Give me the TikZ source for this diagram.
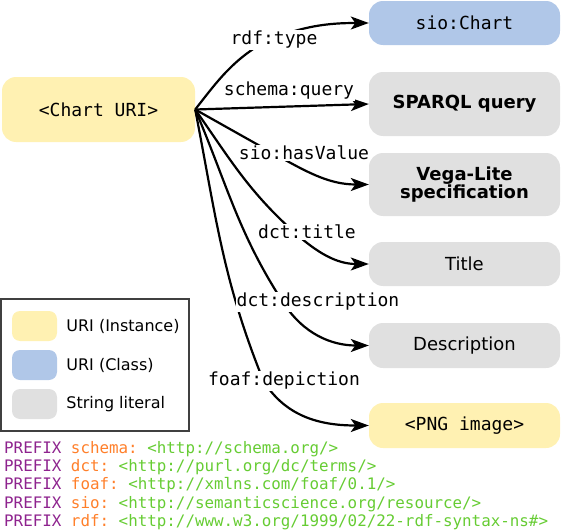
\documentclass[tikz,border=0pt]{standalone}
\usepackage{fontspec}
\setmainfont{DejaVu Sans}
\setmonofont{DejaVu Sans Mono}
\usepackage{xcolor}
\usepackage{tikz}
\usetikzlibrary{arrows.meta, positioning}
\definecolor{uriyellow}{RGB}{255,241,178}
\definecolor{classblue}{RGB}{176,199,232}
\definecolor{litgray}{RGB}{224,224,224}
\definecolor{pfxpurple}{RGB}{142,35,142}
\definecolor{pfxorange}{RGB}{255,127,42}
\definecolor{pfxgreen}{RGB}{102,204,51}
\newcommand{\prefixline}[2]{\textcolor{pfxpurple}{PREFIX} \textcolor{pfxorange}{#1:} \textcolor{pfxgreen}{<#2>}}

\begin{document}
\begin{tikzpicture}[
    x=1pt, y=1pt,
    box/.style={rectangle, rounded corners=14pt, inner sep=0pt, minimum width=191pt, align=center},
    instance/.style={box, fill=uriyellow, font=\ttfamily\fontsize{18}{18}\selectfont},
    class/.style={box, fill=classblue, font=\ttfamily\fontsize{18}{18}\selectfont},
    literal/.style={box, fill=litgray, font=\fontsize{18}{18}\selectfont},
    boldlit/.style={literal, font=\bfseries\fontsize{18}{18}\selectfont},
    arrow/.style={-{Stealth[length=18pt, width=13pt, inset=4.5pt]}, line width=2.2pt},
    prop/.style={fill=white, inner sep=1pt, font=\ttfamily\fontsize{18}{18}\selectfont},
    swatch/.style={rectangle, rounded corners=8pt, minimum width=45pt, minimum height=30pt, inner sep=0pt},
    legtext/.style={right=9pt of #1, inner sep=0pt, font=\fontsize{16}{16}\selectfont}
]
    \useasboundingbox (0,0) rectangle (563,-530);

    % Subject
    \node[instance, minimum width=193pt, minimum height=65pt] (uri) at (98.5,-109.5) {<Chart URI>};

    % Objects
    \node[class, minimum height=44pt] (chart) at (464.5,-23) {sio:Chart};
    \node[boldlit, minimum height=64pt] (sparql) at (464.5,-104) {SPARQL query};
    \node[boldlit, minimum height=63pt] (vega) at (464.5,-184.5) {Vega-Lite\\specification};
    \node[literal, minimum height=44pt] (title) at (464.5,-264) {Title};
    \node[literal, minimum height=45pt] (desc) at (464.5,-345.5) {Description};
    \node[instance, minimum height=45pt] (png) at (464.5,-425.5) {<PNG image>};

    % Points where the curves pass under their labels
    \coordinate (mType) at (266,-41);
    \coordinate (mValue) at (269,-151);
    \coordinate (mTitle) at (294,-232);
    \coordinate (mDesc) at (283.5,-303);
    \coordinate (mDepic) at (263.5,-381);

    % Properties
    \draw[arrow] (uri.east) to[out=52, in=-150] (mType) to[out=22, in=180] (chart.west);
    \draw[arrow] (uri.east) -- (sparql.west);
    \draw[arrow] (uri.east) -- (mValue) to[out=-29, in=180] (vega.west);
    \draw[arrow] (uri.east) to[out=-55, in=138] (mTitle) to[out=-42, in=180] (title.west);
    \draw[arrow] (uri.east) to[out=-67, in=123] (mDesc) to[out=-57, in=180] (desc.west);
    \draw[arrow] (uri.east) to[out=-79, in=112] (mDepic) to[out=-58, in=180] (png.west);

    \node[prop] (pType) at (274,-40) {rdf:type};
    \node[prop] (pQuery) at (289,-91) {schema:query};
    \node[prop] (pValue) at (304,-153) {sio:hasValue};
    \node[prop] (pTitle) at (307,-232) {dct:title};
    \node[prop] (pDesc) at (318,-302) {dct:description};
    \node[prop] (pDepic) at (284,-381) {foaf:depiction};

    % Legend
    \node[draw=black!75, line width=1.2pt, minimum width=188pt, minimum height=132pt, inner sep=0pt] (legend) at (95,-365) {};
    \node[swatch, fill=uriyellow] (swInst) at (34.5,-326) {};
    \node[swatch, fill=classblue] (swClass) at (34.5,-365) {};
    \node[swatch, fill=litgray] (swLit) at (34.5,-404) {};
    \node[legtext=swInst] (lInst) {URI (Instance)};
    \node[legtext=swClass] (lClass) {URI (Class)};
    \node[legtext=swLit] (lLit) {String literal};

    % Prefixes
    \node[anchor=west, align=left, inner sep=0pt, font=\ttfamily\fontsize{15.85}{18.25}\selectfont] (prefixes) at (4,-485.5) {%
        \prefixline{schema}{http://schema.org/}\\
        \prefixline{dct}{http://purl.org/dc/terms/}\\
        \prefixline{foaf}{http://xmlns.com/foaf/0.1/}\\
        \prefixline{sio}{http://semanticscience.org/resource/}\\
        \prefixline{rdf}{http://www.w3.org/1999/02/22-rdf-syntax-ns\#}};
\end{tikzpicture}
\end{document}
